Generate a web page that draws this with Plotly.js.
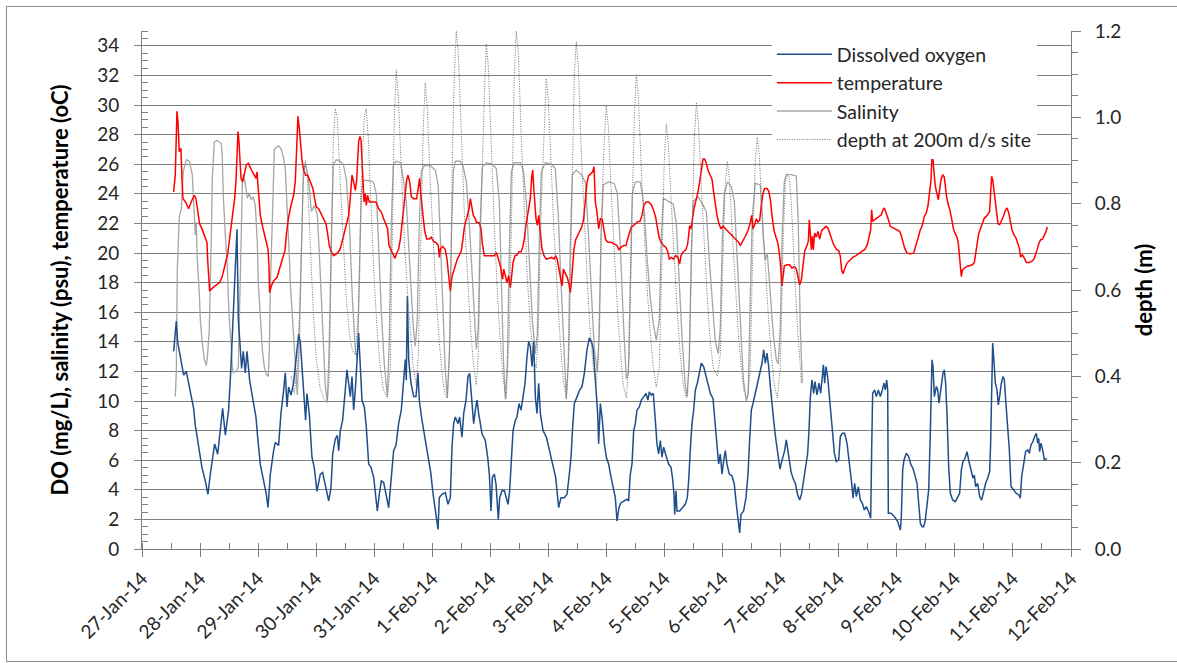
<!DOCTYPE html>
<html><head><meta charset="utf-8">
<script src="https://cdn.plot.ly/plotly-3.0.1.min.js"></script>
<style>
html,body{margin:0;padding:0;background:#fff;}
#chart{width:1177px;height:663px;}
#frame{position:absolute;left:6px;top:6px;width:1200px;height:654px;border:1px solid #8c8c8c;pointer-events:none;}
</style></head><body>
<div id="chart"></div><div id="frame"></div>
<script>
// x values: days after 27-Jan-14 00:00
const dateLabels = ["27-Jan-14","28-Jan-14","29-Jan-14","30-Jan-14","31-Jan-14","1-Feb-14","2-Feb-14","3-Feb-14","4-Feb-14","5-Feb-14","6-Feb-14","7-Feb-14","8-Feb-14","9-Feb-14","10-Feb-14","11-Feb-14","12-Feb-14"];

// Dissolved oxygen (mg/L) [day, value]
const dissolvedOxygen = [
[0.545,13.35],[0.591,15.4],[0.614,14.0],[0.660,13.1],[0.717,11.75],[0.763,12.0],[0.832,10.7],[0.889,9.5],[0.918,8.35],[0.975,6.9],
[1.033,5.5],[1.090,4.6],[1.136,3.7],[1.176,5.05],[1.251,7.1],[1.303,6.4],[1.348,8.0],[1.389,9.5],[1.435,7.7],[1.492,9.4],
[1.532,12.3],[1.567,15.5],[1.601,19.4],[1.636,21.6],[1.659,15.5],[1.676,14.4],[1.716,12.2],[1.745,13.35],[1.779,11.9],[1.808,13.35],
[1.854,11.4],[1.923,9.8],[1.963,8.9],[1.991,7.6],[2.038,5.7],[2.095,4.6],[2.141,3.7],[2.170,2.8],[2.210,5.05],[2.267,6.65],
[2.296,7.2],[2.353,7.0],[2.393,9.15],[2.439,10.7],[2.468,11.9],[2.497,9.6],[2.525,10.95],[2.566,10.4],[2.611,11.2],[2.657,13.0],
[2.698,14.5],[2.726,14.0],[2.772,11.2],[2.818,8.7],[2.841,10.5],[2.881,9.15],[2.927,6.2],[2.967,5.5],[3.013,3.9],[3.071,5.06],
[3.111,5.17],[3.157,4.38],[3.215,3.25],[3.255,4.15],[3.284,6.42],[3.329,7.44],[3.364,7.67],[3.387,6.65],[3.416,8.0],[3.456,8.7],
[3.490,10.3],[3.530,12.1],[3.559,11.2],[3.588,10.3],[3.617,11.65],[3.645,9.4],[3.674,10.75],[3.703,12.55],[3.731,14.6],[3.754,12.8],
[3.789,10.05],[3.829,9.6],[3.863,8.24],[3.904,5.74],[3.944,5.52],[3.990,4.84],[4.030,3.47],[4.053,2.57],[4.087,3.7],[4.122,4.61],
[4.162,4.5],[4.202,3.7],[4.248,2.8],[4.294,4.84],[4.334,6.65],[4.374,7.0],[4.420,8.47],[4.466,9.4],[4.506,11.4],[4.535,12.8],
[4.552,11.4],[4.570,17.1],[4.593,12.8],[4.633,11.2],[4.679,10.3],[4.719,10.3],[4.753,11.9],[4.776,10.05],[4.822,8.7],[4.880,7.33],
[4.937,5.97],[4.977,5.06],[5.006,3.93],[5.040,3.02],[5.063,2.57],[5.098,1.32],[5.121,3.47],[5.167,3.7],[5.224,3.81],[5.270,3.02],
[5.310,3.47],[5.339,6.88],[5.367,8.47],[5.396,8.92],[5.442,8.47],[5.471,8.92],[5.511,7.56],[5.540,9.15],[5.580,10.05],[5.614,11.65],
[5.643,11.87],[5.672,10.3],[5.684,9.6],[5.712,8.47],[5.741,9.38],[5.770,10.06],[5.799,9.15],[5.856,7.79],[5.913,7.33],[5.954,6.2],
[5.982,5.06],[5.999,3.93],[6.011,2.57],[6.034,4.84],[6.068,5.06],[6.097,4.38],[6.114,3.02],[6.137,2.0],[6.160,3.47],[6.200,3.93],
[6.241,3.93],[6.275,3.47],[6.304,3.02],[6.332,3.93],[6.361,5.97],[6.390,8.0],[6.430,8.7],[6.459,8.92],[6.493,9.83],[6.528,9.38],
[6.562,10.28],[6.597,11.2],[6.631,13.0],[6.660,14.03],[6.688,13.69],[6.717,12.33],[6.746,14.03],[6.775,10.28],[6.803,9.15],[6.832,11.2],
[6.861,9.15],[6.907,8.0],[6.964,7.56],[7.021,6.65],[7.079,5.52],[7.125,4.84],[7.176,2.8],[7.216,3.47],[7.274,3.47],[7.320,3.7],
[7.354,4.84],[7.389,6.2],[7.417,8.24],[7.446,9.83],[7.492,10.28],[7.538,10.74],[7.578,10.97],[7.618,11.87],[7.664,13.46],[7.705,14.26],
[7.739,14.03],[7.768,13.58],[7.796,12.1],[7.825,10.51],[7.848,9.15],[7.865,7.11],[7.894,9.83],[7.928,8.7],[7.963,7.11],[7.997,6.2],
[8.037,5.74],[8.078,4.84],[8.112,4.15],[8.152,3.47],[8.181,1.89],[8.215,2.8],[8.250,3.13],[8.296,3.25],[8.353,3.36],[8.381,3.25],
[8.410,5.06],[8.439,5.74],[8.468,8.0],[8.496,8.47],[8.525,9.38],[8.565,9.6],[8.600,10.06],[8.640,10.28],[8.680,10.51],[8.714,10.06],
[8.737,10.62],[8.772,10.4],[8.806,10.51],[8.841,8.7],[8.869,7.11],[8.898,6.42],[8.927,7.33],[8.956,6.2],[8.984,6.88],[9.024,6.31],
[9.070,5.74],[9.111,5.52],[9.139,4.73],[9.162,3.7],[9.174,2.34],[9.197,3.93],[9.214,2.57],[9.260,2.57],[9.311,2.8],[9.357,3.02],
[9.392,3.47],[9.415,4.61],[9.443,6.65],[9.472,8.47],[9.501,9.38],[9.530,10.74],[9.564,11.2],[9.599,11.87],[9.633,12.55],[9.673,12.33],
[9.702,11.87],[9.742,11.2],[9.788,10.51],[9.834,10.17],[9.874,8.47],[9.903,7.11],[9.931,5.74],[9.960,6.42],[9.989,5.06],[10.018,5.97],
[10.046,6.65],[10.075,5.74],[10.115,5.06],[10.161,4.95],[10.201,4.38],[10.236,3.02],[10.264,2.11],[10.293,1.09],[10.316,2.34],[10.362,2.57],
[10.402,3.47],[10.437,5.06],[10.465,7.33],[10.494,9.38],[10.523,9.83],[10.563,10.51],[10.603,11.2],[10.638,11.87],[10.678,12.55],[10.707,13.46],
[10.735,12.55],[10.764,13.23],[10.793,12.33],[10.822,10.97],[10.850,9.6],[10.885,8.47],[10.919,7.33],[10.954,6.42],[10.988,5.4],[11.022,5.97],
[11.068,6.65],[11.097,7.37],[11.138,6.24],[11.178,5.23],[11.212,4.78],[11.252,4.44],[11.293,3.65],[11.327,3.31],[11.361,3.76],[11.396,4.67],
[11.430,5.34],[11.465,6.47],[11.488,8.05],[11.511,10.3],[11.539,11.43],[11.568,10.52],[11.591,11.31],[11.626,10.41],[11.660,11.2],[11.689,10.52],
[11.717,11.65],[11.735,12.44],[11.758,11.2],[11.780,12.33],[11.809,11.65],[11.844,9.85],[11.872,8.95],[11.895,7.82],[11.924,6.47],[11.958,5.91],
[11.999,6.02],[12.027,7.6],[12.062,7.82],[12.102,7.82],[12.142,7.15],[12.182,5.91],[12.223,4.44],[12.246,3.43],[12.274,4.44],[12.303,3.54],
[12.337,4.2],[12.372,3.31],[12.406,3.09],[12.441,2.64],[12.475,2.86],[12.515,2.52],[12.550,2.07],[12.567,6.69],[12.584,10.52],[12.619,10.75],
[12.647,10.3],[12.682,10.75],[12.716,10.3],[12.751,10.75],[12.779,11.2],[12.802,10.75],[12.825,11.43],[12.843,10.75],[12.854,2.41],[12.900,2.41],
[12.957,2.19],[13.015,1.85],[13.061,1.28],[13.078,2.19],[13.101,5.34],[13.124,6.02],[13.164,6.47],[13.204,6.24],[13.245,5.68],[13.279,5.45],
[13.313,4.89],[13.348,4.44],[13.377,3.09],[13.405,1.74],[13.434,1.51],[13.462,1.51],[13.491,1.96],[13.520,3.09],[13.549,3.99],[13.577,7.82],
[13.606,12.78],[13.623,12.33],[13.646,10.3],[13.681,10.98],[13.704,10.75],[13.727,9.85],[13.761,10.75],[13.795,11.88],[13.818,12.1],[13.841,11.2],
[13.864,9.17],[13.893,5.57],[13.922,3.76],[13.962,3.31],[14.008,3.2],[14.048,3.54],[14.082,3.76],[14.111,5.34],[14.140,5.91],[14.174,6.13],
[14.209,6.58],[14.243,5.91],[14.278,5.34],[14.312,4.78],[14.335,5.0],[14.358,4.22],[14.392,4.44],[14.427,3.54],[14.461,3.31],[14.496,3.99],
[14.530,4.44],[14.565,4.78],[14.599,5.23],[14.616,7.15],[14.634,11.2],[14.651,13.91],[14.668,13.01],[14.697,11.2],[14.725,10.75],[14.748,9.74],
[14.771,10.3],[14.800,11.2],[14.829,11.65],[14.852,11.43],[14.875,10.07],[14.909,8.27],[14.938,6.69],[14.967,4.22],[15.012,3.99],[15.058,3.76],
[15.104,3.65],[15.127,3.43],[15.150,4.89],[15.185,5.91],[15.219,6.58],[15.254,6.69],[15.282,6.47],[15.311,7.03],[15.345,7.26],[15.374,7.6],
[15.403,7.82],[15.426,7.15],[15.443,7.48],[15.460,6.58],[15.483,7.15],[15.512,6.69],[15.541,6.02],[15.587,6.13]
];

// Temperature (oC) [day, value]
const temperature = [
[0.545,24.13],[0.573,25.26],[0.602,29.58],[0.619,28.9],[0.642,26.85],[0.671,27.08],[0.688,25.04],[0.705,23.67],[0.751,23.45],[0.803,22.99],
[0.860,23.56],[0.901,23.9],[0.929,23.67],[0.958,22.88],[0.992,21.97],[1.033,21.63],[1.073,21.18],[1.119,20.72],[1.130,19.59],[1.165,17.43],
[1.222,17.66],[1.280,17.82],[1.337,18.0],[1.377,18.34],[1.406,18.91],[1.440,19.36],[1.475,19.93],[1.503,20.72],[1.532,21.63],[1.567,22.65],
[1.595,23.67],[1.618,24.81],[1.636,26.4],[1.653,28.21],[1.670,27.53],[1.687,26.17],[1.705,25.04],[1.733,24.81],[1.762,25.26],[1.796,25.94],
[1.831,26.06],[1.865,25.72],[1.900,25.49],[1.934,25.26],[1.963,25.04],[1.980,25.49],[2.009,23.9],[2.038,22.54],[2.072,21.86],[2.106,21.29],
[2.141,20.84],[2.170,20.27],[2.187,19.14],[2.198,17.32],[2.227,17.77],[2.267,18.12],[2.324,18.34],[2.359,18.8],[2.393,19.36],[2.428,19.82],
[2.462,20.16],[2.491,21.41],[2.525,22.43],[2.566,23.22],[2.611,23.9],[2.640,24.81],[2.663,26.62],[2.686,29.24],[2.709,28.44],[2.732,27.42],
[2.755,26.29],[2.784,25.6],[2.818,25.26],[2.853,25.26],[2.887,24.92],[2.916,24.7],[2.944,24.36],[2.973,23.67],[3.002,23.11],[3.042,22.99],
[3.088,22.65],[3.129,22.31],[3.169,21.97],[3.197,21.29],[3.226,20.5],[3.261,20.09],[3.301,19.82],[3.341,19.93],[3.387,20.09],[3.421,20.38],
[3.456,20.9],[3.490,21.45],[3.525,21.97],[3.559,22.54],[3.582,23.45],[3.599,24.58],[3.617,25.26],[3.645,24.81],[3.674,24.24],[3.697,24.92],
[3.714,26.17],[3.731,27.53],[3.754,27.87],[3.772,27.65],[3.789,26.29],[3.806,24.58],[3.823,23.45],[3.846,24.02],[3.863,23.22],[3.886,23.9],
[3.915,23.45],[3.972,23.45],[4.030,23.45],[4.076,22.99],[4.122,22.77],[4.162,22.31],[4.202,21.97],[4.231,21.63],[4.254,20.5],[4.288,20.23],
[4.323,19.93],[4.357,19.64],[4.386,20.0],[4.420,20.27],[4.449,20.9],[4.478,21.97],[4.506,23.11],[4.535,23.9],[4.558,24.92],[4.581,25.26],
[4.610,24.81],[4.639,23.79],[4.679,23.67],[4.730,23.67],[4.759,24.58],[4.782,25.04],[4.799,24.13],[4.817,23.56],[4.839,22.54],[4.868,21.52],
[4.903,20.95],[4.948,20.95],[4.983,21.07],[5.023,20.77],[5.069,20.68],[5.103,20.5],[5.121,19.7],[5.138,20.27],[5.178,20.45],[5.224,20.23],
[5.253,19.59],[5.276,18.68],[5.293,17.77],[5.310,17.43],[5.339,18.41],[5.373,18.91],[5.402,19.14],[5.431,19.59],[5.465,19.86],[5.500,20.16],
[5.528,20.95],[5.557,21.86],[5.597,22.43],[5.632,22.99],[5.655,23.67],[5.672,23.22],[5.706,22.54],[5.741,22.31],[5.758,22.09],[5.810,22.04],
[5.839,21.63],[5.862,20.61],[5.896,19.82],[5.954,19.82],[6.011,19.82],[6.068,19.82],[6.103,20.04],[6.143,19.59],[6.172,19.14],[6.195,18.57],
[6.212,18.23],[6.229,18.91],[6.258,18.46],[6.287,18.0],[6.315,18.46],[6.344,17.66],[6.367,18.46],[6.390,19.36],[6.424,19.82],[6.459,19.86],
[6.493,20.09],[6.528,20.09],[6.556,20.38],[6.585,20.95],[6.608,21.75],[6.637,22.43],[6.665,22.88],[6.688,23.67],[6.711,25.04],[6.729,25.6],
[6.746,24.47],[6.763,23.22],[6.786,22.31],[6.809,21.86],[6.832,22.54],[6.861,21.41],[6.889,20.27],[6.924,19.82],[6.964,19.59],[7.010,19.64],
[7.056,19.7],[7.096,19.59],[7.125,19.82],[7.153,19.54],[7.182,18.91],[7.211,18.34],[7.234,17.77],[7.257,18.91],[7.291,18.68],[7.326,18.34],
[7.354,17.89],[7.377,17.32],[7.395,18.0],[7.417,19.36],[7.440,20.27],[7.469,20.9],[7.504,21.22],[7.538,21.45],[7.573,21.75],[7.607,22.31],
[7.636,23.67],[7.664,24.76],[7.693,25.22],[7.727,25.35],[7.762,25.49],[7.785,25.83],[7.808,23.45],[7.836,22.77],[7.865,21.63],[7.894,22.31],
[7.928,22.27],[7.957,21.52],[7.986,20.9],[8.026,20.72],[8.078,20.72],[8.135,20.61],[8.181,20.5],[8.215,20.23],[8.250,20.38],[8.296,20.5],
[8.336,20.5],[8.364,20.95],[8.393,21.41],[8.427,21.75],[8.468,21.86],[8.508,22.04],[8.542,22.13],[8.577,22.13],[8.611,22.54],[8.640,23.18],
[8.680,23.45],[8.726,23.45],[8.772,23.27],[8.812,22.88],[8.846,22.43],[8.875,21.75],[8.910,21.0],[8.944,20.72],[8.984,20.5],[9.024,20.38],
[9.059,20.04],[9.082,19.59],[9.116,19.7],[9.156,19.59],[9.191,19.82],[9.231,19.7],[9.260,19.25],[9.283,19.82],[9.323,20.09],[9.369,20.23],
[9.398,20.61],[9.421,21.41],[9.432,21.86],[9.455,21.63],[9.478,22.31],[9.507,22.99],[9.541,23.56],[9.576,24.13],[9.604,24.81],[9.633,25.72],
[9.662,26.35],[9.690,26.35],[9.719,26.06],[9.748,25.6],[9.782,25.26],[9.817,24.99],[9.845,24.13],[9.874,23.22],[9.903,22.54],[9.937,21.97],
[9.972,21.63],[10.006,21.81],[10.046,21.63],[10.104,21.41],[10.161,21.18],[10.218,20.95],[10.276,20.72],[10.305,20.5],[10.345,20.77],[10.391,21.13],
[10.437,21.52],[10.471,21.97],[10.500,22.54],[10.523,21.63],[10.552,21.9],[10.580,22.31],[10.609,22.09],[10.638,22.2],[10.666,23.22],[10.695,24.02],
[10.724,24.36],[10.764,24.36],[10.793,24.18],[10.822,23.63],[10.850,22.54],[10.885,21.52],[10.919,21.07],[10.948,20.72],[10.971,20.16],[10.994,19.36],
[11.022,17.77],[11.063,19.14],[11.109,19.2],[11.155,19.2],[11.195,18.98],[11.235,19.09],[11.270,18.91],[11.298,18.3],[11.327,17.85],[11.356,18.19],
[11.384,19.32],[11.413,20.11],[11.442,20.4],[11.476,20.78],[11.493,22.25],[11.511,20.67],[11.528,20.22],[11.545,21.12],[11.562,20.22],[11.585,21.35],
[11.614,21.07],[11.643,21.46],[11.671,20.94],[11.706,21.53],[11.740,21.68],[11.781,21.8],[11.815,21.68],[11.844,21.35],[11.872,20.9],[11.901,20.67],
[11.930,20.44],[11.964,20.22],[11.999,20.17],[12.027,19.77],[12.050,18.87],[12.073,18.6],[12.108,18.98],[12.142,19.32],[12.200,19.54],[12.246,19.72],
[12.292,19.81],[12.337,19.95],[12.395,20.11],[12.452,20.26],[12.492,20.56],[12.521,21.12],[12.550,21.57],[12.567,22.92],[12.584,22.13],[12.619,22.25],
[12.659,22.36],[12.699,22.47],[12.733,22.58],[12.762,22.92],[12.785,23.04],[12.808,22.81],[12.831,22.58],[12.860,22.2],[12.888,21.8],[12.946,21.68],
[13.003,21.57],[13.049,21.46],[13.078,21.16],[13.107,20.78],[13.135,20.33],[13.176,19.99],[13.233,19.95],[13.290,19.99],[13.319,20.44],[13.348,20.85],
[13.377,21.16],[13.405,21.57],[13.434,21.8],[13.474,22.47],[13.508,22.7],[13.537,23.19],[13.566,24.05],[13.589,24.95],[13.606,26.48],[13.623,26.3],
[13.640,25.51],[13.663,24.5],[13.692,24.0],[13.715,23.6],[13.738,24.28],[13.761,24.95],[13.790,25.29],[13.818,25.13],[13.836,24.5],[13.858,23.78],
[13.887,23.26],[13.916,22.88],[13.945,22.29],[13.973,21.68],[14.002,21.34],[14.037,21.07],[14.059,20.67],[14.077,19.99],[14.094,19.32],[14.111,18.41],
[14.128,18.82],[14.163,18.98],[14.209,19.09],[14.255,19.14],[14.301,19.2],[14.335,19.36],[14.358,19.88],[14.381,20.67],[14.410,21.3],[14.439,21.62],
[14.473,22.07],[14.507,22.36],[14.542,22.47],[14.576,22.65],[14.599,22.81],[14.616,24.05],[14.634,25.18],[14.651,24.95],[14.674,24.16],[14.697,23.6],
[14.720,22.7],[14.743,21.98],[14.771,21.91],[14.806,22.2],[14.840,22.52],[14.869,22.88],[14.898,23.04],[14.926,22.74],[14.955,22.2],[14.984,21.57],
[15.018,21.23],[15.053,21.01],[15.081,20.67],[15.110,20.33],[15.133,19.72],[15.162,19.88],[15.196,19.65],[15.231,19.36],[15.277,19.36],[15.323,19.43],
[15.363,19.59],[15.392,19.88],[15.420,20.26],[15.449,20.67],[15.478,20.9],[15.507,20.94],[15.535,21.16],[15.564,21.39],[15.593,21.75]
];

// Salinity (psu) [day, value]
const salinity = [
[0.574,10.3],[0.591,12.0],[0.608,18.9],[0.643,22.5],[0.677,23.0],[0.711,25.5],[0.763,26.3],[0.815,26.2],[0.866,25.3],[0.901,22.5],
[0.918,21.2],[0.935,22.1],[0.952,19.6],[0.987,17.3],[1.004,15.5],[1.039,13.9],[1.073,12.8],[1.107,12.4],[1.125,12.9],[1.159,14.8],
[1.176,17.3],[1.194,21.2],[1.211,25.0],[1.228,26.85],[1.245,27.5],[1.297,27.6],[1.331,27.5],[1.366,27.4],[1.383,26.4],[1.400,23.9],
[1.435,21.2],[1.469,19.1],[1.486,17.1],[1.504,15.5],[1.538,13.7],[1.555,12.3],[1.573,11.9],[1.607,12.0],[1.641,12.1],[1.659,12.3],
[1.676,15.9],[1.710,22.5],[1.728,24.6],[1.745,25.3],[1.779,24.7],[1.814,23.7],[1.848,24.0],[1.883,23.6],[1.917,23.8],[1.952,23.2],
[1.986,20.7],[2.003,18.0],[2.037,15.5],[2.072,13.5],[2.106,12.3],[2.141,11.8],[2.175,11.65],[2.193,13.5],[2.210,17.5],[2.244,22.5],
[2.261,25.7],[2.279,27.0],[2.330,27.2],[2.365,27.2],[2.399,27.0],[2.434,26.5],[2.468,25.7],[2.485,24.4],[2.503,22.1],[2.537,19.8],
[2.554,18.0],[2.589,15.9],[2.606,14.4],[2.640,12.5],[2.675,10.4],[2.709,14.0],[2.744,20.0],[2.778,25.5],[2.812,26.0],[2.847,25.5],
[2.881,24.4],[2.916,22.8],[2.968,23.2],[3.019,22.6],[3.054,20.0],[3.088,17.0],[3.123,14.0],[3.157,11.0],[3.192,9.9],[3.226,14.0],
[3.261,21.0],[3.295,26.0],[3.347,26.3],[3.415,26.2],[3.467,26.0],[3.519,25.0],[3.571,22.0],[3.622,17.0],[3.674,13.5],[3.708,12.8],
[3.743,18.0],[3.777,24.0],[3.812,24.9],[3.898,24.9],[3.984,24.8],[4.036,24.0],[4.070,21.0],[4.122,16.0],[4.173,12.5],[4.225,10.3],
[4.259,14.0],[4.294,22.0],[4.328,26.0],[4.380,26.2],[4.449,26.1],[4.483,25.5],[4.517,24.5],[4.552,23.5],[4.586,21.0],[4.638,17.5],
[4.672,15.0],[4.707,13.7],[4.741,15.5],[4.776,22.0],[4.810,25.5],[4.862,25.9],[4.965,25.9],[5.051,25.6],[5.103,24.5],[5.138,21.0],
[5.189,15.5],[5.224,12.0],[5.258,10.2],[5.293,13.0],[5.327,21.0],[5.362,25.5],[5.396,26.2],[5.482,26.2],[5.534,25.8],[5.586,24.8],
[5.637,22.0],[5.689,18.5],[5.723,15.5],[5.758,13.5],[5.792,15.0],[5.826,22.0],[5.861,25.8],[5.930,26.1],[6.033,26.0],[6.102,25.7],
[6.154,23.5],[6.188,18.0],[6.223,13.0],[6.257,10.1],[6.292,12.5],[6.326,20.0],[6.361,25.5],[6.412,26.1],[6.515,26.1],[6.567,25.6],
[6.619,23.5],[6.670,19.5],[6.722,15.5],[6.774,13.2],[6.808,14.5],[6.843,21.0],[6.877,25.5],[6.946,26.1],[7.049,26.0],[7.118,25.7],
[7.170,22.5],[7.222,17.5],[7.273,12.5],[7.308,10.1],[7.342,12.5],[7.376,20.5],[7.411,25.3],[7.480,25.6],[7.566,25.3],[7.635,24.8],
[7.686,21.5],[7.738,17.0],[7.790,13.5],[7.841,12.0],[7.876,14.5],[7.910,21.5],[7.945,24.6],[8.031,24.8],[8.134,24.7],[8.186,24.0],
[8.238,20.5],[8.289,15.5],[8.341,11.5],[8.376,11.9],[8.410,18.0],[8.444,24.0],[8.496,24.8],[8.582,24.8],[8.616,24.0],[8.651,22.8],
[8.702,19.5],[8.754,17.0],[8.806,15.2],[8.857,14.1],[8.909,15.5],[8.944,21.0],[8.978,23.7],[9.064,23.5],[9.150,23.3],[9.202,22.0],
[9.254,18.0],[9.305,14.0],[9.357,11.0],[9.392,10.3],[9.426,13.0],[9.460,20.0],[9.495,23.5],[9.581,23.8],[9.667,23.2],[9.719,22.8],
[9.771,19.5],[9.822,16.5],[9.874,14.0],[9.926,13.2],[9.960,15.0],[9.995,21.0],[10.029,24.0],[10.081,24.8],[10.149,24.5],[10.201,23.5],
[10.253,19.5],[10.304,15.0],[10.356,11.5],[10.408,10.0],[10.442,10.5],[10.476,17.0],[10.511,22.5],[10.563,24.7],[10.649,24.6],[10.700,21.0],
[10.735,19.5],[10.769,20.0],[10.821,17.0],[10.873,14.5],[10.924,12.8],[10.959,12.5],[10.993,15.0],[11.028,21.5],[11.062,24.8],[11.097,25.3],
[11.183,25.3],[11.269,25.2],[11.303,22.0],[11.338,15.0],[11.372,11.2]
];

// Depth at 200m d/s site (m) [day, value]
const depth = [
[2.571,0.40],[2.623,0.36],[2.675,0.42],[2.726,0.60],[2.778,0.85],[2.812,0.90],[2.847,0.86],[2.899,0.70],[2.950,0.55],[3.002,0.44],
[3.071,0.37],[3.140,0.345],[3.192,0.34],[3.226,0.40],[3.261,0.65],[3.295,0.95],[3.330,1.02],[3.364,1.00],[3.415,0.85],[3.467,0.70],
[3.519,0.58],[3.571,0.50],[3.622,0.46],[3.674,0.45],[3.725,0.55],[3.777,0.85],[3.829,1.00],[3.863,1.02],[3.898,0.95],[3.949,0.78],
[4.001,0.62],[4.053,0.50],[4.104,0.42],[4.156,0.37],[4.225,0.35],[4.276,0.42],[4.311,0.70],[4.345,1.00],[4.380,1.11],[4.414,1.05],
[4.466,0.88],[4.517,0.72],[4.569,0.60],[4.621,0.50],[4.672,0.42],[4.724,0.38],[4.759,0.45],[4.810,0.75],[4.845,0.98],[4.879,1.08],
[4.914,1.02],[4.965,0.85],[5.017,0.70],[5.069,0.58],[5.120,0.48],[5.172,0.40],[5.224,0.355],[5.258,0.35],[5.310,0.50],[5.344,0.90],
[5.379,1.10],[5.413,1.20],[5.448,1.15],[5.499,0.95],[5.551,0.78],[5.603,0.64],[5.654,0.52],[5.706,0.43],[5.758,0.38],[5.792,0.45],
[5.844,0.80],[5.896,1.05],[5.930,1.17],[5.964,1.12],[6.016,0.92],[6.068,0.75],[6.119,0.60],[6.171,0.48],[6.223,0.39],[6.274,0.35],
[6.326,0.50],[6.378,0.90],[6.412,1.10],[6.446,1.20],[6.481,1.15],[6.533,0.95],[6.584,0.78],[6.636,0.63],[6.687,0.52],[6.739,0.44],
[6.791,0.42],[6.825,0.50],[6.877,0.80],[6.929,1.00],[6.963,1.09],[6.998,1.04],[7.049,0.87],[7.101,0.72],[7.153,0.60],[7.204,0.48],
[7.256,0.39],[7.308,0.35],[7.359,0.48],[7.411,0.88],[7.445,1.10],[7.480,1.175],[7.514,1.12],[7.566,0.92],[7.618,0.75],[7.669,0.62],
[7.721,0.50],[7.773,0.42],[7.824,0.38],[7.859,0.45],[7.910,0.75],[7.962,0.95],[7.996,1.027],[8.031,0.98],[8.083,0.82],[8.134,0.68],
[8.186,0.56],[8.238,0.46],[8.289,0.38],[8.341,0.35],[8.393,0.45],[8.444,0.80],[8.479,1.00],[8.513,1.10],[8.548,1.05],[8.599,0.88],
[8.651,0.72],[8.702,0.60],[8.754,0.50],[8.806,0.42],[8.857,0.375],[8.909,0.42],[8.961,0.70],[8.995,0.90],[9.030,0.984],[9.064,0.94],
[9.116,0.80],[9.168,0.66],[9.219,0.55],[9.271,0.45],[9.323,0.38],[9.374,0.35],[9.426,0.42],[9.478,0.75],[9.512,0.95],[9.547,1.035],
[9.581,0.99],[9.633,0.84],[9.684,0.70],[9.736,0.58],[9.788,0.48],[9.839,0.42],[9.908,0.40],[9.960,0.45],[10.012,0.70],[10.046,0.85],
[10.081,0.898],[10.115,0.86],[10.167,0.73],[10.218,0.60],[10.270,0.50],[10.322,0.42],[10.373,0.36],[10.425,0.35],[10.476,0.42],[10.528,0.75],
[10.563,0.90],[10.597,0.954],[10.632,0.91],[10.683,0.78],[10.735,0.65],[10.787,0.54],[10.838,0.45],[10.890,0.38],[10.942,0.35],[10.993,0.42],
[11.045,0.72],[11.080,0.85],[11.114,0.868],[11.149,0.86],[11.183,0.80],[11.235,0.65],[11.286,0.52],[11.338,0.42],[11.355,0.385]
];

const xs = s => s.map(p => p[0]);
const ys = s => s.map(p => p[1]);
const FONT = 'Lato, "Noto Sans", "DejaVu Sans", sans-serif';
const GRID = '#7f7f7f';

const traces = [
  {x: xs(depth), y: ys(depth), yaxis: 'y2', mode: 'lines', name: 'depth at 200m d/s site',
   line: {color: '#6f6f6f', width: 1, dash: '1px,1.5px'}, legendrank: 4},
  {x: xs(salinity), y: ys(salinity), mode: 'lines', name: 'Salinity',
   line: {color: '#a6a6a6', width: 1.3}, legendrank: 3},
  {x: xs(dissolvedOxygen), y: ys(dissolvedOxygen), mode: 'lines', name: 'Dissolved oxygen',
   line: {color: '#1f4e8a', width: 1.5}, legendrank: 1},
  {x: xs(temperature), y: ys(temperature), mode: 'lines', name: 'temperature',
   line: {color: '#ff0000', width: 1.5}, legendrank: 2}
];

const layout = {
  width: 1177, height: 663,
  margin: {l: 142, r: 106, t: 31, b: 114},
  paper_bgcolor: '#fff', plot_bgcolor: '#fff',
  font: {family: FONT, color: '#404040'},
  showlegend: true,
  legend: {x: 0.678, y: 0.992, xanchor: 'left', yanchor: 'top', bgcolor: '#fff',
           font: {family: FONT, size: 19.5, color: '#262626'}, itemwidth: 55, tracegroupgap: 0},
  xaxis: {
    range: [0, 16], tickmode: 'array', tickvals: dateLabels.map((_, i) => i), ticktext: dateLabels,
    tickangle: -45, ticks: 'outside', ticklen: 7, tickcolor: GRID, showline: true, linecolor: GRID,
    showgrid: false, zeroline: false, tickfont: {size: 19, color: '#262626'}, ticklabelstandoff: 3,
    minor: {tickmode: 'linear', tick0: 0, dtick: 0.5, ticks: 'inside', ticklen: 6, tickcolor: GRID, showgrid: false}
  },
  yaxis: {
    range: [0, 35], tickmode: 'linear', tick0: 0, dtick: 2, ticks: 'outside', ticklen: 7, tickcolor: GRID,
    showline: true, linecolor: GRID, showgrid: true, gridcolor: GRID, gridwidth: 1, zeroline: false,
    tickfont: {size: 19, color: '#262626'}, ticklabelstandoff: 11,
    minor: {tickmode: 'linear', tick0: 0, dtick: 0.5, ticks: 'inside', ticklen: 6, tickcolor: GRID, showgrid: false},
    title: {text: 'DO (mg/L), salinity (psu), temperature (oC)', standoff: 22,
            font: {family: FONT, size: 22, color: '#000', weight: 'bold'}}
  },
  yaxis2: {
    overlaying: 'y', side: 'right', range: [0, 1.2], tickmode: 'linear', tick0: 0, dtick: 0.2, tickformat: '.1f',
    ticks: 'outside', ticklen: 9, tickcolor: GRID, showline: true, linecolor: GRID, showgrid: false, zeroline: false,
    tickfont: {size: 19, color: '#262626'}, ticklabelstandoff: 10,
    minor: {tickmode: 'linear', tick0: 0, dtick: 0.05, ticks: 'outside', ticklen: 6, tickcolor: GRID, showgrid: false},
    title: {text: 'depth (m)', standoff: 16, font: {family: FONT, size: 22, color: '#000', weight: 'bold'}}
  }
};

Plotly.newPlot('chart', traces, layout, {staticPlot: true, displayModeBar: false});
</script>
</body></html>
